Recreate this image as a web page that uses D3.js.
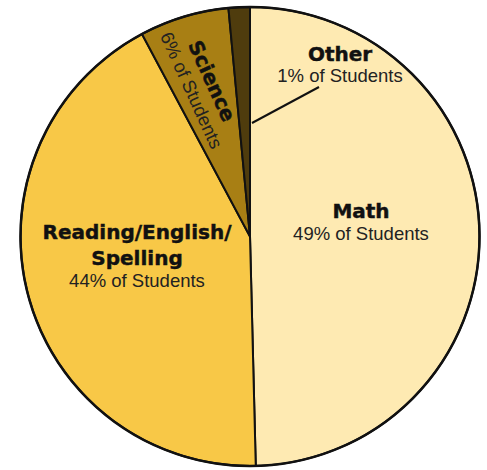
<!DOCTYPE html>
<html>
<head>
<meta charset="utf-8">
<script src="https://cdn.jsdelivr.net/npm/d3@7"></script>
<style>
  html, body { margin: 0; padding: 0; background: #ffffff; }
  svg { display: block; }
</style>
</head>
<body>
<svg id="chart" width="487" height="470"></svg>
<script>
// ---- data ----
const categories = ["Math", "Reading/English/Spelling", "Science", "Other"];
const values = [49.6, 42.6, 6.3, 1.5];
const valueLabels = ["49% of Students", "44% of Students", "6% of Students", "1% of Students"];
const titleLines = [["Math"], ["Reading/English/", "Spelling"], ["Science"], ["Other"]];
const colors = ["#FEEAB2", "#F8C847", "#A87F14", "#4F3C0D"];

// ---- layout (not data) ----
const W = 487, H = 470;
const cx = 250, cy = 236.5, R = 229.5;
const boldFont = "'DejaVu Sans', sans-serif";
const normFont = "'Liberation Sans', Arial, sans-serif";

const svg = d3.select("#chart");
const g = svg.append("g").attr("transform", `translate(${cx},${cy})`);

const pie = d3.pie().sort(null).value(d => d.value).startAngle(0).endAngle(2 * Math.PI);
const arc = d3.arc().innerRadius(0).outerRadius(R);
const data = categories.map((c, i) => ({ cat: c, value: values[i], color: colors[i], i }));
const arcs = pie(data);

g.selectAll("path.slice")
  .data(arcs)
  .join("path")
  .attr("class", "slice")
  .attr("d", arc)
  .attr("fill", d => d.data.color)
  .attr("stroke", "#111")
  .attr("stroke-width", 2)
  .attr("stroke-linejoin", "round");

g.append("circle")
  .attr("r", R)
  .attr("fill", "none")
  .attr("stroke", "#111")
  .attr("stroke-width", 2.5);

// label placements (relative to page)
const labelLayout = {
  "Math": { x: 361, y: 218, rot: 0, lineGap: 22 },
  "Reading/English/Spelling": { x: 137, y: 239, rot: 0, lineGap: 26, valGap: 22 },
  "Other": { x: 340, y: 61, rot: 0, lineGap: 21 },
  "Science": { x: 212, y: 81, rot: 65.6, lineGap: 0 }
};

const labels = svg.append("g");

// leader line for Other, from the small slice toward its label
labels.append("line")
  .attr("x1", cx + 2)
  .attr("y1", 123)
  .attr("x2", 319)
  .attr("y2", 87)
  .attr("stroke", "#111")
  .attr("stroke-width", 2);

function boldText(sel) {
  return sel.attr("font-family", boldFont).attr("font-weight", "bold").attr("font-size", 20)
    .attr("fill", "#111").attr("stroke", "#111").attr("stroke-width", 0.45);
}
function normText(sel) {
  return sel.attr("font-family", normFont).attr("font-size", 18.5).attr("fill", "#222");
}

categories.forEach((c, i) => {
  const L = labelLayout[c];
  if (L.rot) {
    const grp = labels.append("g").attr("transform", `translate(${L.x},${L.y}) rotate(${L.rot})`);
    boldText(grp.append("text")
      .attr("x", 0).attr("y", 7)
      .attr("text-anchor", "middle"))
      .text(titleLines[i][0]);
    normText(grp.append("text")
      .attr("x", 0).attr("y", 29)
      .attr("text-anchor", "middle"))
      .text(valueLabels[i]);
  } else {
    let y = L.y;
    titleLines[i].forEach((t, k) => {
      if (k > 0) y += L.lineGap;
      boldText(labels.append("text")
        .attr("x", L.x).attr("y", y)
        .attr("text-anchor", "middle"))
        .text(t);
    });
    y += (L.valGap || L.lineGap);
    normText(labels.append("text")
      .attr("x", L.x).attr("y", y)
      .attr("text-anchor", "middle"))
      .text(valueLabels[i]);
  }
});
</script>
</body>
</html>
